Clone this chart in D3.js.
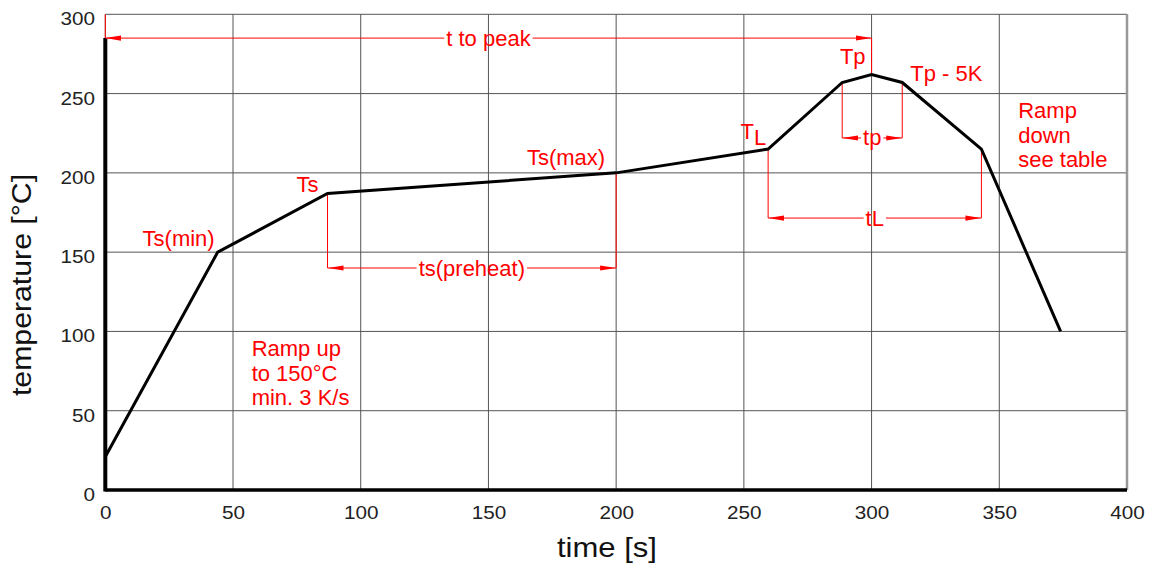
<!DOCTYPE html>
<html lang="en">
<head>
    <meta charset="UTF-8">
    <title>Reflow profile</title>
    <script src="https://d3js.org/d3.v7.min.js"></script>
    <style>
        body{
            margin: 0;
            background: #fff;
        }
        text{
            font-family: "Liberation Sans", Arial, Helvetica, sans-serif;
        }
        .grid line{
            stroke: #555;
            stroke-width: 1;
        }
        .note{
            fill: #ff0000;
            font-size: 22px;
        }
        .dim{
            stroke: #ff0000;
            stroke-width: 1;
            fill: none;
        }
    </style>
</head>
<body>
    <svg id="main" width="1160" height="570"></svg>
    <script>
        // profile points
        const times = [0, 44, 87, 200, 259.5, 288.5, 300, 312, 343, 374]
        const temps = [21, 150, 187, 200, 215, 257, 262, 257, 215, 100]
        const xTicks = [0, 50, 100, 150, 200, 250, 300, 350, 400]
        const yTicks = [0, 50, 100, 150, 200, 250, 300]

        // dimension arrows: span in time, height in °C, tops of the two extension lines
        const dimLabels = ["t to peak", "ts(preheat)", "tp", "tL"]
        const dimFrom = [0, 87, 288.5, 259.5]
        const dimTo = [300, 200, 312, 343]
        const dimAt = [285, 140, 222, 171.5]
        const dimTopFrom = [300, 187, 257, 215]
        const dimTopTo = [262, 200, 257, 215]

        // point labels: index of the profile point, text, offsets in px
        const pointIdx = [1, 2, 3, 6, 7]
        const pointText = ["Ts(min)", "Ts", "Ts(max)", "Tp", "Tp - 5K"]
        const pointAnchor = ["end", "end", "end", "end", "start"]
        const pointDx = [-3, -9, -11, -6, 8]
        const pointDy = [-6, -1, -8, -11, -1]

        // free notes
        const notes = [
            {x: 57.3, y: 84.4, lines: ["Ramp up", "to 150°C", "min. 3 K/s"]},
            {x: 357.4, y: 234.4, lines: ["Ramp", "down", "see table"]}
        ]

        const svg = d3.select("#main")
        const x = d3.scaleLinear().domain([0, 400]).range([105.3, 1127])
        const y = d3.scaleLinear().domain([0, 300]).range([490, 14.3])

        // grid
        const grid = svg.append("g").attr("class", "grid")
        grid.selectAll(".gx").data(xTicks).join("line")
            .attr("x1", d => x(d)).attr("x2", d => x(d))
            .attr("y1", y(0)).attr("y2", y(300))
        grid.selectAll(".gy").data(yTicks).join("line")
            .attr("y1", d => y(d)).attr("y2", d => y(d))
            .attr("x1", x(0)).attr("x2", x(400))
        // right border, greyer and thicker
        svg.append("line")
            .attr("x1", x(400)).attr("x2", x(400))
            .attr("y1", y(0)).attr("y2", y(300))
            .attr("stroke", "#999").attr("stroke-width", 2.5)

        // axes
        const xAxis = svg.append("g")
            .attr("transform", "translate(0," + y(0) + ")")
            .call(d3.axisBottom(x).tickValues(xTicks).tickSize(0).tickPadding(0))
        xAxis.select(".domain").remove()
        xAxis.selectAll("text")
            .attr("y", 29).attr("dy", 0)
            .attr("font-size", 18).attr("fill", "#222")
            .attr("transform", "scale(1.15,1)")

        const yAxis = svg.append("g")
            .attr("transform", "translate(" + x(0) + ",0)")
            .call(d3.axisLeft(y).tickValues(yTicks).tickSize(0).tickPadding(0))
        yAxis.select(".domain").remove()
        yAxis.selectAll("text")
            .attr("x", -9).attr("dy", 10.5)
            .attr("font-size", 18).attr("fill", "#222")
            .attr("transform", "scale(1.15,1)")

        // thick axis lines
        svg.append("line")
            .attr("x1", x(0)).attr("x2", x(400))
            .attr("y1", y(0)).attr("y2", y(0))
            .attr("stroke", "#000").attr("stroke-width", 3.5)
        svg.append("line")
            .attr("x1", x(0)).attr("x2", x(0))
            .attr("y1", y(0) + 1.5).attr("y2", y(285))
            .attr("stroke", "#000").attr("stroke-width", 4)

        // axis titles
        svg.append("text")
            .attr("transform", "translate(607,557) scale(1.15,1)")
            .attr("text-anchor", "middle")
            .attr("font-size", 27)
            .attr("fill", "#111")
            .text("time [s]")
        svg.append("text")
            .attr("transform", "translate(31,285) rotate(-90) scale(1.12,1)")
            .attr("text-anchor", "middle")
            .attr("font-size", 27)
            .attr("fill", "#111")
            .text("temperature [°C]")

        // arrowhead
        svg.append("defs").append("marker")
            .attr("id", "arrow")
            .attr("viewBox", "0 -3 16 6")
            .attr("refX", 16)
            .attr("refY", 0)
            .attr("markerUnits", "userSpaceOnUse")
            .attr("markerWidth", 16)
            .attr("markerHeight", 6)
            .attr("orient", "auto-start-reverse")
            .append("path")
            .attr("d", "M0,-2.6L16,0L0,2.6Z")
            .attr("fill", "#ff0000")

        // dimension lines
        const dims = svg.append("g")
        dimLabels.forEach((lab, i) => {
            const x0 = x(dimFrom[i]), x1 = x(dimTo[i]), yy = y(dimAt[i])
            const cx = (x0 + x1) / 2
            // extension lines
            dims.append("line").attr("class", "dim")
                .attr("x1", x0).attr("x2", x0)
                .attr("y1", y(dimTopFrom[i])).attr("y2", yy)
            dims.append("line").attr("class", "dim")
                .attr("x1", x1).attr("x2", x1)
                .attr("y1", y(dimTopTo[i])).attr("y2", yy)
            const t = dims.append("text").attr("class", "note")
                .attr("x", cx).attr("y", yy + 7.5)
                .attr("text-anchor", "middle")
                .text(lab)
            const w = t.node().getComputedTextLength()
            dims.append("line").attr("class", "dim")
                .attr("x1", cx - w / 2 - 2).attr("x2", x0)
                .attr("y1", yy).attr("y2", yy)
                .attr("marker-end", "url(#arrow)")
            dims.append("line").attr("class", "dim")
                .attr("x1", cx + w / 2 + 2).attr("x2", x1)
                .attr("y1", yy).attr("y2", yy)
                .attr("marker-end", "url(#arrow)")
        })

        // profile
        const line = d3.line().x((d, i) => x(times[i])).y(d => y(d))
        svg.append("path")
            .datum(temps)
            .attr("d", line)
            .attr("fill", "none")
            .attr("stroke", "#000")
            .attr("stroke-width", 3)
            .attr("stroke-linejoin", "miter")

        // point labels
        svg.selectAll(".plabel").data(pointIdx).join("text")
            .attr("class", "note plabel")
            .attr("x", (d, i) => x(times[d]) + pointDx[i])
            .attr("y", (d, i) => y(temps[d]) + pointDy[i])
            .attr("text-anchor", (d, i) => pointAnchor[i])
            .text((d, i) => pointText[i])

        // T with subscript L at the liquidus point
        const tl = svg.append("text").attr("class", "note")
            .attr("x", x(times[4]) - 2).attr("y", y(temps[4]) - 10.5)
            .attr("text-anchor", "end")
            .attr("font-size", 20)
        tl.append("tspan").text("T")
        tl.append("tspan").attr("dy", 6.5).text("L")

        // notes
        notes.forEach(n => {
            const t = svg.append("text").attr("class", "note")
                .attr("x", x(n.x)).attr("y", y(n.y))
            n.lines.forEach((l, i) => {
                t.append("tspan")
                    .attr("x", x(n.x))
                    .attr("dy", i === 0 ? 0 : 24.5)
                    .text(l)
            })
        })
    </script>
</body>
</html>
